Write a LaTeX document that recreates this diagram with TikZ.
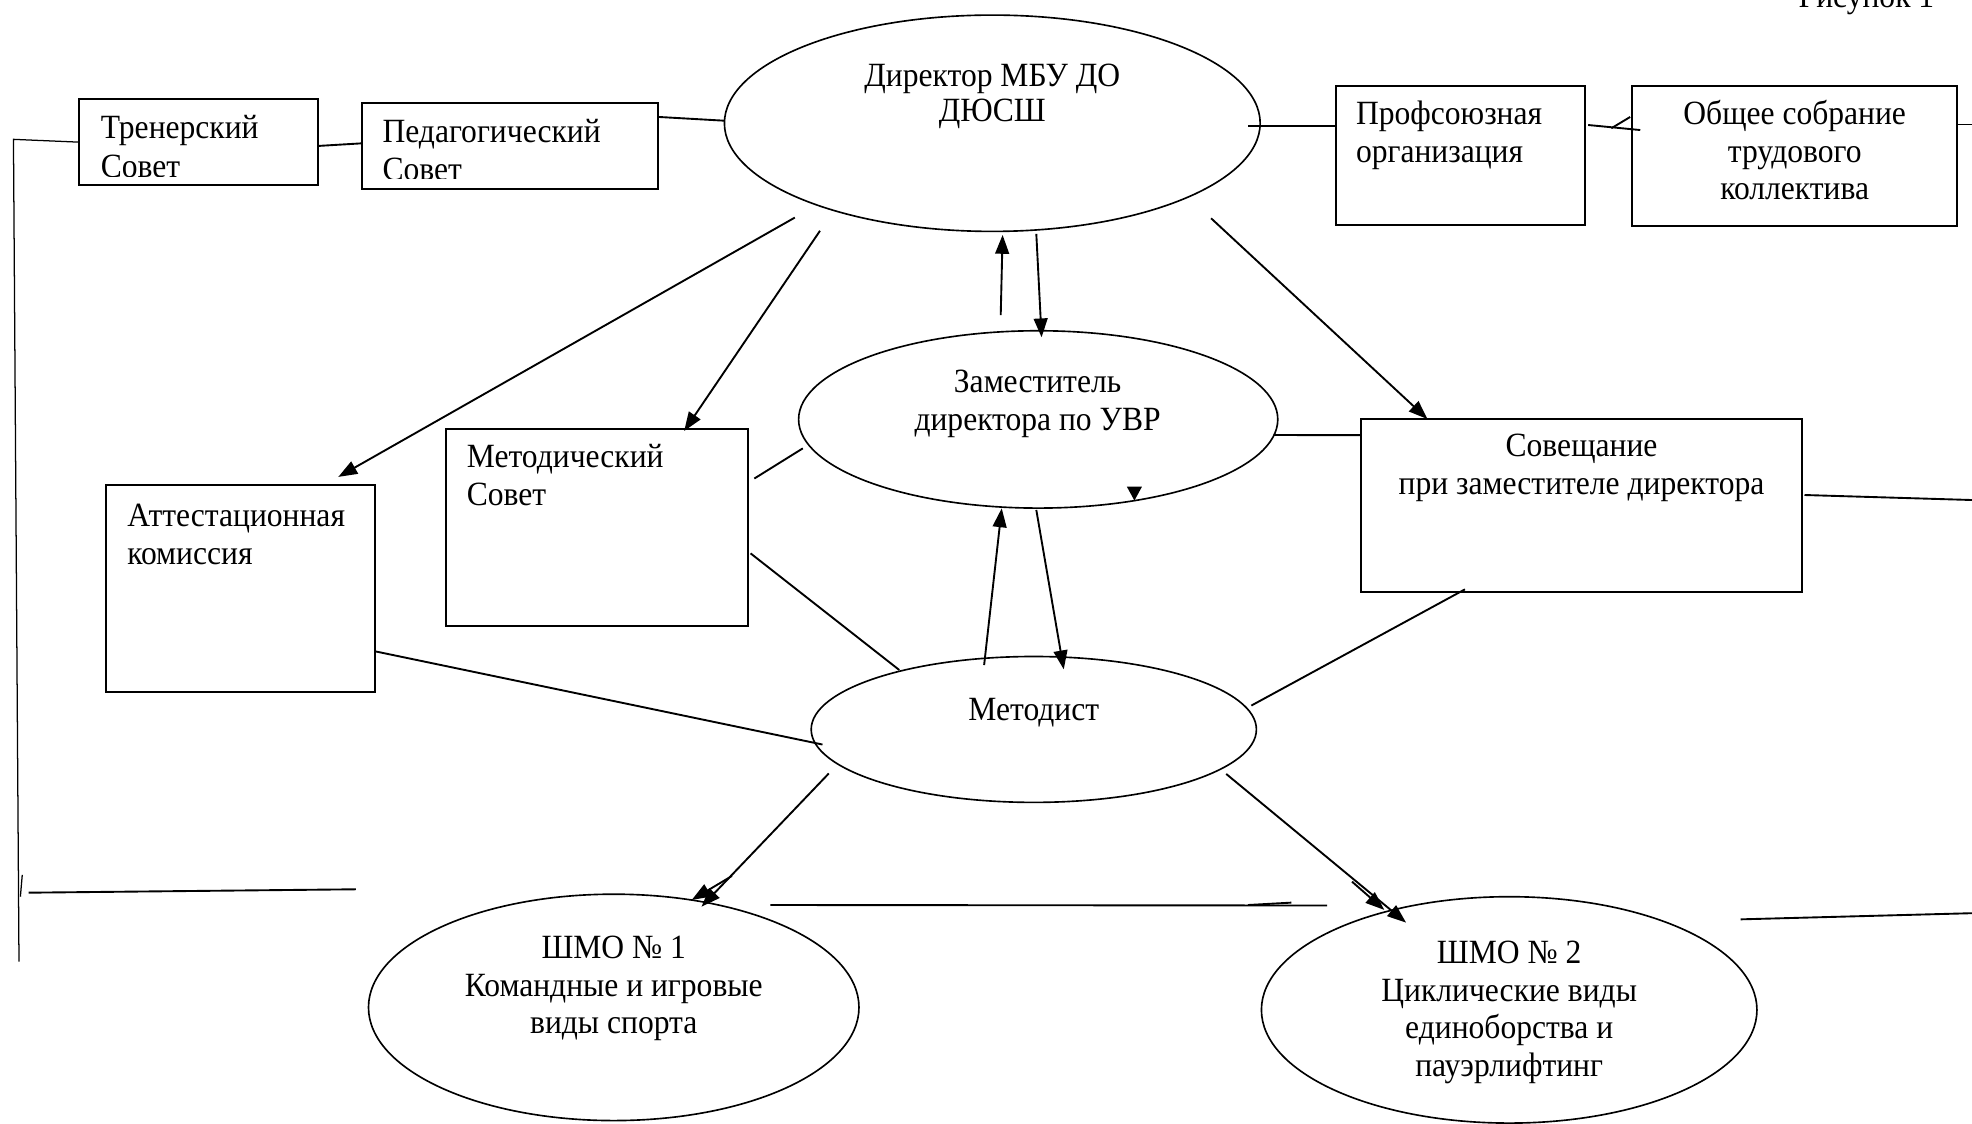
\documentclass[tikz,border=0pt]{standalone}
\usepackage{fontspec}
\setmainfont[FakeStretch=0.93]{Liberation Serif}
\usetikzlibrary{shapes.geometric,arrows.meta,calc}
\newcommand{\mylines}[2][c]{\begin{tabular}[t]{@{}#1@{}}#2\end{tabular}}
\begin{document}
\begin{tikzpicture}[x=1pt,y=-1pt,
  every node/.style={font=\fontsize{27}{30}\selectfont},
  box/.style={draw, line width=1.6pt, inner sep=0pt, rectangle},
  oval/.style={draw, line width=1.3pt, ellipse, inner sep=0pt},
  lbl/.style={inner sep=0pt, anchor=base},
  lblw/.style={inner sep=0pt, anchor=base west},
  conn/.style={line width=1.5pt},
  thin/.style={line width=1pt},
  arr/.style={line width=1.5pt, -{Triangle[length=15pt,width=11pt]}},
]
\fill[white] (0,0) rectangle (1568,893);
\useasboundingbox (0,0) rectangle (1568,893);

% boxes
\node[box, minimum width=190pt, minimum height=68pt] (tren) at (158,113) {};
\node[box, minimum width=235pt, minimum height=68pt] (ped) at (405.5,116) {};
\node[box, minimum width=198pt, minimum height=111pt] (prof) at (1161,123.5) {};
\node[box, minimum width=258pt, minimum height=112pt] (obsh) at (1427,124) {};
\node[box, minimum width=240pt, minimum height=157pt] (met) at (475,419.5) {};
\node[box, minimum width=214pt, minimum height=164pt] (att) at (191,468) {};
\node[box, minimum width=351pt, minimum height=138pt] (sov) at (1257.5,402) {};
% ellipses
\node[oval, minimum width=426pt, minimum height=172pt] (dir) at (789,98) {};
\node[oval, minimum width=381pt, minimum height=141pt] (zam) at (825.5,333.5) {};
\node[oval, minimum width=354pt, minimum height=116pt] (metd) at (822,580) {};
\node[oval, minimum width=390pt, minimum height=180pt] (shmo1) at (488,801) {};
\node[oval, minimum width=394pt, minimum height=180pt] (shmo2) at (1200,803) {};

% texts
\begin{scope}
\clip (tren.north west) rectangle ($(tren.south east)+(0,-7.5)$);
\node[lblw] (tTren) at (80,110) {\mylines[l]{Тренерский\\[1.5pt]Совет}};
\end{scope}
\begin{scope}
\clip (ped.north west) rectangle ($(ped.south east)+(0,-9)$);
\node[lblw] (tPed) at (304,113.4) {\mylines[l]{Педагогический\\[0.5pt]Совет}};
\end{scope}
\node[lbl] (tDir) at (789,68.5) {\mylines{Директор МБУ ДО\\[-2pt]ДЮСШ}};
\node[lblw] (tProf) at (1078,99) {\mylines[l]{Профсоюзная\\организация}};
\node[lbl] (tObsh) at (1427,99) {\mylines{Общее собрание\\трудового\\коллектива}};
\node[lbl] (tZam) at (825,312) {\mylines{Заместитель\\директора по УВР}};
\node[lblw] (tMet) at (371,372) {\mylines[l]{Методический\\Совет}};
\node[lblw] (tAtt) at (101,419) {\mylines[l]{Аттестационная\\комиссия}};
\node[lbl] (tSov) at (1257.5,363) {\mylines{Совещание\\при заместителе директора}};
\node[lbl] (tMetd) at (822,573) {Методист};
\node[lbl] (tS1) at (488,762) {\mylines{ШМО № 1\\Командные и игровые\\виды спорта}};
\node[lbl] (tS2) at (1200,766) {\mylines{ШМО № 2\\Циклические виды\\единоборства и\\пауэрлифтинг}};
\node[lblw] (tFig) at (1430,6) {Рисунок 1};

% free ends
\coordinate (lt) at (10.7,110.8);
\coordinate (lb) at (15.1,764.6);
\coordinate (hl1) at (22.8,709.8);
\coordinate (hl2) at (283,707.1);
\coordinate (k1) at (17.7,695.7);
\coordinate (k2) at (16.2,713);
\coordinate (rt1) at (1572,99);
\coordinate (rt2) at (1572,397.7);
\coordinate (rt3) at (1572,726);

% left frame
\draw[thin] (tren.west) -- (lt) -- (lb);
\draw[conn] (hl1) -- (hl2);
\draw[thin] (k1) -- (k2);

% top row
\draw[conn] ($(tren.east)+(0,3)$) -- ($(ped.west)+(0,-2)$);
\draw[conn] ($(ped.east)+(0,-23)$) -- ($(dir.west)+(1,-2)$);
\draw[conn] ($(dir.east)+(-10,2)$) -- ($(prof.west)+(0,-23.5)$);
\draw[conn] ($(prof.east)+(2,-24.1)$) -- ($(obsh.west)+(7,-20.6)$);
\draw[conn] ($(obsh.west)+(-16,-22)$) -- ($(obsh.west)+(-1,-31)$);
\draw[conn] ($(obsh.east)+(0,-25)$) -- (rt1);

% arrows from director
\draw[arr] ($(dir.center)+(-157,75)$) -- ($(att.north)+(78,-6)$);
\draw[arr] ($(dir.center)+(-137,85.5)$) -- ($(met.north)+(69,2.5)$);
\draw[arr] ($(zam.center)+(-29.8,-83)$) -- ($(dir.center)+(8.2,88.8)$);
\draw[arr] ($(dir.center)+(35,88)$) -- ($(zam.center)+(2.7,-65.3)$);
\draw[arr] ($(dir.center)+(174,75.6)$) -- ($(sov.north)+(-122.5,1)$);

% deputy connections
\draw[conn] ($(zam.center)+(187.5,12.4)$) -- ($(sov.west)+(0,-56)$);
\fill ($(zam.center)+(70.5,53.5)$) -- ++(12,0) -- ++(-6,11) -- cycle;
\draw[conn] ($(met.east)+(4,-39)$) -- ($(zam.west)+(4,23)$);
\draw[conn] ($(met.east)+(1,20.5)$) -- ($(metd.center)+(-107,-47.3)$);
\draw[conn] ($(att.east)+(0,50)$) -- ($(metd.center)+(-168,12)$);
\draw[arr] ($(metd.center)+(-39.5,-51.2)$) -- ($(zam.center)+(-29,70.7)$);
\draw[arr] ($(zam.center)+(-1.5,72)$) -- ($(metd.center)+(23.8,-47.8)$);
\draw[conn] ($(sov.south)+(-92.7,-3.2)$) -- ($(metd.center)+(173,-19)$);
\draw[conn] ($(sov.east)+(1,-8.4)$) -- (rt2);

% methodist to SHMO
\draw[arr] ($(metd.center)+(-163,35)$) -- ($(shmo1.center)+(69.8,-80.1)$);
\draw[arr] ($(shmo1.center)+(94,-104.5)$) -- ($(shmo1.center)+(62,-85.4)$);
\draw[arr] ($(metd.center)+(153,35.4)$) -- ($(shmo2.center)+(-82,-69.4)$);
\draw[arr] ($(shmo2.center)+(-125,-102)$) -- ($(shmo2.center)+(-99.3,-79.5)$);
\draw[conn] ($(shmo1.center)+(124.6,-81.4)$) -- ($(shmo2.center)+(-144.7,-83)$);
\draw[conn] ($(shmo2.center)+(-207.7,-83.4)$) -- ($(shmo2.center)+(-173.2,-85.3)$);
\draw[conn] ($(shmo2.center)+(184,-72)$) -- (rt3);
\end{tikzpicture}
\end{document}
